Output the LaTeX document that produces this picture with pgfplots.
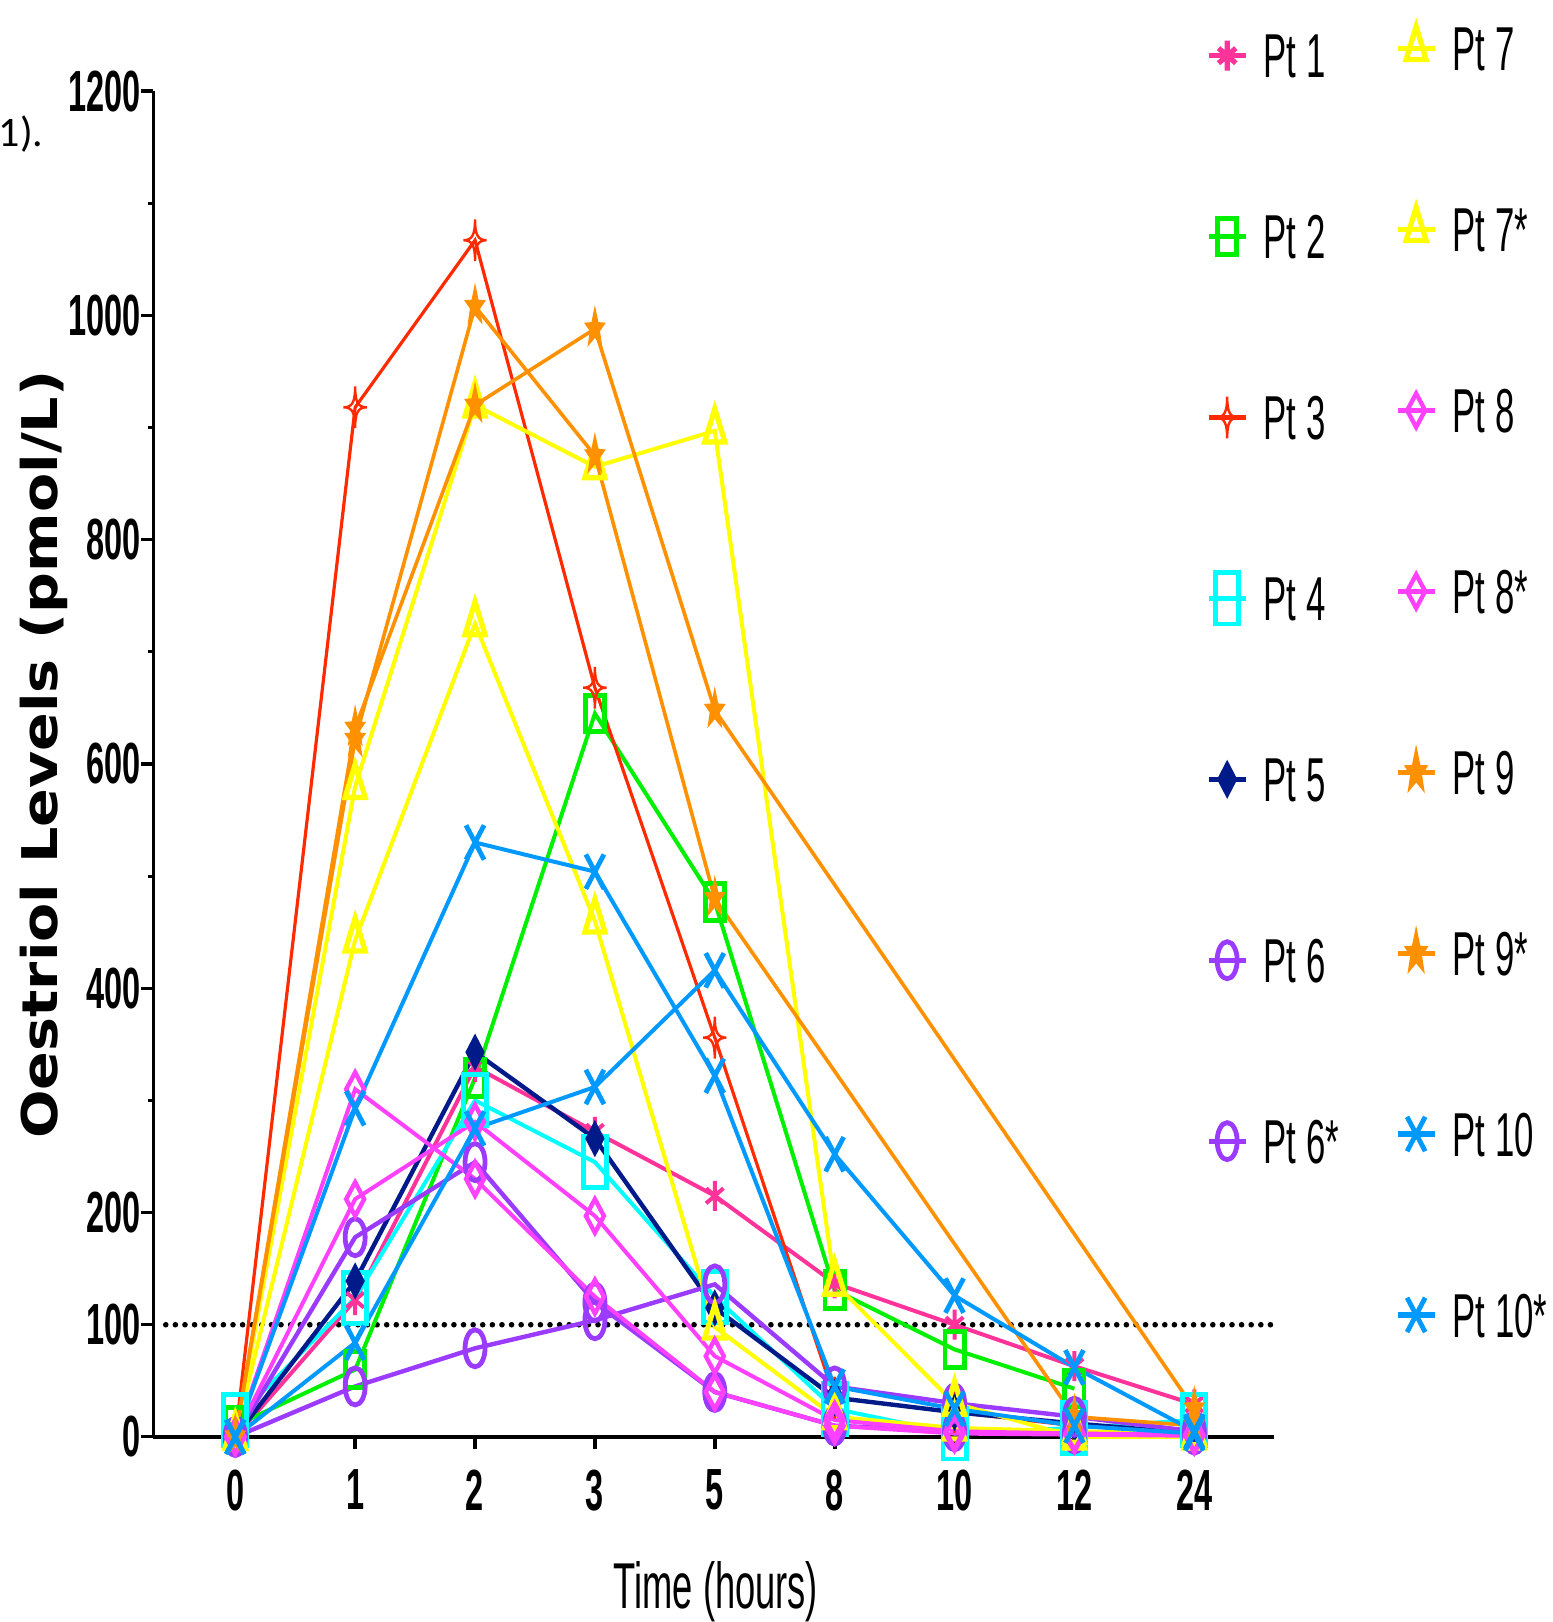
\documentclass[border=0pt]{standalone}
\usepackage{fontspec}
\usepackage{pgfplots}
\pgfplotsset{compat=1.18}
\usetikzlibrary{plotmarks}
\setmainfont{Liberation Sans}
\newfontfamily\narrowfont[FakeStretch=0.56]{Liberation Sans}
\newfontfamily\labelfont[FakeStretch=1.16]{DejaVu Sans}
\newfontfamily\carlitofont{Carlito}

\definecolor{c1}{HTML}{FF3399}
\definecolor{c2}{HTML}{00F000}
\definecolor{c3}{HTML}{FF2A00}
\definecolor{c4}{HTML}{00FFFF}
\definecolor{c5}{HTML}{001A8A}
\definecolor{c6}{HTML}{9A3BFF}
\definecolor{c7}{HTML}{FFFF00}
\definecolor{c8}{HTML}{FF40FF}
\definecolor{c9}{HTML}{FF9100}
\definecolor{c10}{HTML}{0099FF}

\pgfdeclareplotmark{star4}{%
  \pgfpathmoveto{\pgfqpoint{0pt}{\pgfplotmarksize}}%
  \pgfpathcurveto{\pgfqpoint{0pt}{0.25\pgfplotmarksize}}{\pgfqpoint{0.25\pgfplotmarksize}{0pt}}{\pgfqpoint{\pgfplotmarksize}{0pt}}%
  \pgfpathcurveto{\pgfqpoint{0.25\pgfplotmarksize}{0pt}}{\pgfqpoint{0pt}{-0.25\pgfplotmarksize}}{\pgfqpoint{0pt}{-\pgfplotmarksize}}%
  \pgfpathcurveto{\pgfqpoint{0pt}{-0.25\pgfplotmarksize}}{\pgfqpoint{-0.25\pgfplotmarksize}{0pt}}{\pgfqpoint{-\pgfplotmarksize}{0pt}}%
  \pgfpathcurveto{\pgfqpoint{-0.25\pgfplotmarksize}{0pt}}{\pgfqpoint{0pt}{0.25\pgfplotmarksize}}{\pgfqpoint{0pt}{\pgfplotmarksize}}%
  \pgfpathclose\pgfusepathqstroke}
\pgfdeclareplotmark{fstar}{%
  \pgfpathmoveto{\pgfpointpolar{90}{\pgfplotmarksize}}%
  \pgfpathlineto{\pgfpointpolar{126}{0.42\pgfplotmarksize}}%
  \pgfpathlineto{\pgfpointpolar{162}{\pgfplotmarksize}}%
  \pgfpathlineto{\pgfpointpolar{198}{0.42\pgfplotmarksize}}%
  \pgfpathlineto{\pgfpointpolar{234}{\pgfplotmarksize}}%
  \pgfpathlineto{\pgfpointpolar{270}{0.42\pgfplotmarksize}}%
  \pgfpathlineto{\pgfpointpolar{306}{\pgfplotmarksize}}%
  \pgfpathlineto{\pgfpointpolar{342}{0.42\pgfplotmarksize}}%
  \pgfpathlineto{\pgfpointpolar{18}{\pgfplotmarksize}}%
  \pgfpathlineto{\pgfpointpolar{54}{0.42\pgfplotmarksize}}%
  \pgfpathclose\pgfusepathqfillstroke}

\pgfplotsset{
  pt1/.style={color=c1, line width=1pt, mark=asterisk, mark size=2.5pt, mark options={solid, yscale=1.5}},
  pt2/.style={color=c2, line width=1pt, mark=square, mark size=2.4pt, mark options={solid, yscale=1.9, line width=1.2pt}},
  pt3/.style={color=c3, line width=0.8pt, mark=star4, mark size=2.9pt, mark options={solid, yscale=1.8, line width=0.6pt}},
  pt4/.style={color=c4, line width=1pt, mark=square, mark size=2.9pt, mark options={solid, yscale=2.2, line width=1.2pt}},
  pt5/.style={color=c5, line width=1.1pt, mark=diamond*, mark size=2.4pt, mark options={solid, yscale=1.45, fill=c5}},
  pt6/.style={color=c6, line width=1.1pt, mark=o, mark size=2.5pt, mark options={solid, yscale=1.85, line width=1.2pt}},
  pt7/.style={color=c7, line width=1pt, mark=triangle, mark size=2.9pt, mark options={solid, yscale=1.9, line width=1.3pt}},
  pt8/.style={color=c8, line width=1pt, mark=diamond, mark size=3pt, mark options={solid, yscale=1.4, line width=1.1pt}},
  pt9/.style={color=c9, line width=0.9pt, mark=fstar, mark size=2pt, mark options={solid, yscale=1.85}},
  pt10/.style={color=c10, line width=1pt, mark=x, mark size=3.2pt, mark options={solid, yscale=1.9, line width=1.2pt}},
  commonaxis/.style={
    scale only axis, width=280pt, height=336.25pt,
    xmin=-0.684, xmax=8.665, ymin=0, ymax=1200,
    clip=false,
  },
  legstyle/.style={
    legend cell align=left,
    legend image code/.code={\draw[mark repeat=2,mark phase=2,line width=1.3pt] plot coordinates {(0pt,0pt) (4.65pt,0pt) (9.3pt,0pt)};},
  },
}

\begin{document}
\begin{tikzpicture}
\begin{axis}[
  commonaxis, legstyle,
  axis lines=left,
  axis line style={-},
  x axis line style={line width=1.1pt},
  y axis line style={line width=0.8pt},
  xtick={0,1,2,3,4,5,6,7,8},
  xticklabels={0,1,2,3,5,8,10,12,24},
  ytick={0,100,200,400,600,800,1000,1200},
  minor ytick={300,500,700,900,1100},
  tick align=outside,
  major tick length=3pt, minor tick length=1.4pt,
  xtick style={line width=1pt, black},
  ytick style={line width=0.8pt, black},
  /pgf/number format/assume math mode=true,
  /pgf/number format/1000 sep={},
  tick label style={font=\narrowfont\bfseries\fontsize{14.5}{14.5}\selectfont, inner sep=0pt},
  xticklabel style={yshift=-5pt},
  xlabel={Time (hours)},
  xlabel style={font=\narrowfont\fontsize{16.2}{16.2}\selectfont, at={(axis description cs:0.502,0)}, anchor=base, yshift=-43pt},
  ylabel={Oestriol Levels (pmol/L)},
  ylabel style={font=\labelfont\bfseries\fontsize{12.3}{12.3}\selectfont, at={(axis description cs:-0.098,0.507)}, anchor=center},
  legend style={at={(0.9393,1.0935)}, anchor=north west, draw=none, fill=none, inner sep=0pt, outer sep=0pt, row sep=0pt, column sep=3.8pt, font=\narrowfont\fontsize{15.5}{15.5}\selectfont, nodes={inner sep=0pt, text height=28.15pt, text depth=17.05pt}},
]
\addplot[black, line width=1.4pt, dash pattern=on 0pt off 2.4pt, line cap=round, forget plot] coordinates {(-0.58,100) (8.665,100)};

\addplot[pt1, forget plot] coordinates {(0,0) (1,122) (2,330) (3,272) (4,215) (5,137) (6,100) (7,63) (8,29)};
\addplot[pt2, forget plot] coordinates {(0,10) (1,60) (2,320) (3,645) (4,477) (5,131) (6,78) (7,43)};
\addplot[pt3, forget plot] coordinates {(0,0) (1,918) (2,1067) (3,668) (4,356) (5,35) (6,22) (7,10) (8,3)};
\addplot[pt4, forget plot] coordinates {(0,15) (1,124) (2,300) (3,245) (4,125) (5,25) (6,3) (7,8) (8,15)};
\addplot[pt5, forget plot] coordinates {(0,0) (1,139) (2,343) (3,266) (4,115) (5,35) (6,22) (7,12) (8,3)};
\addplot[pt6, forget plot] coordinates {(0,0) (1,178) (2,245) (3,120) (4,40) (5,10) (6,5) (7,3) (8,2)};
\addplot[pt6, forget plot] coordinates {(0,0) (1,45) (2,79) (3,104) (4,136) (5,45) (6,30) (7,18) (8,5)};
\addplot[pt7, forget plot] coordinates {(0,0) (1,580) (2,920) (3,865) (4,897) (5,137) (6,30) (7,0) (8,0)};
\addplot[pt7, forget plot] coordinates {(0,0) (1,443) (2,725) (3,460) (4,98) (5,18) (6,8) (7,5) (8,3)};
\addplot[pt8, forget plot] coordinates {(0,0) (1,310) (2,230) (3,125) (4,40) (5,10) (6,3) (7,2) (8,1)};
\addplot[pt8, forget plot] coordinates {(0,0) (1,212) (2,281) (3,197) (4,72) (5,15) (6,5) (7,3) (8,2)};
\addplot[pt9, forget plot] coordinates {(0,0) (1,632) (2,920) (3,988) (4,648) (8,25)};
\addplot[pt9, forget plot] coordinates {(0,0) (1,622) (2,1008) (3,875) (4,480) (7,18) (8,10)};
\addplot[pt10, forget plot] coordinates {(0,0) (1,293) (2,530) (3,504) (4,322) (5,45) (6,25) (7,10) (8,3)};
\addplot[pt10, forget plot] coordinates {(0,0) (1,84) (2,275) (3,312) (4,416) (5,252) (6,126) (7,62) (8,5)};

\addlegendimage{pt1}\addlegendentry{Pt 1}
\addlegendimage{pt2}\addlegendentry{Pt 2}
\addlegendimage{pt3}\addlegendentry{Pt 3}
\addlegendimage{pt4}\addlegendentry{Pt 4}
\addlegendimage{pt5}\addlegendentry{Pt 5}
\addlegendimage{pt6}\addlegendentry{Pt 6}
\addlegendimage{pt6}\addlegendentry{Pt 6*}
\end{axis}

\begin{axis}[
  commonaxis, legstyle, hide axis,
  legend style={at={(1.1079,1.0988)}, anchor=north west, draw=none, fill=none, inner sep=0pt, outer sep=0pt, row sep=0pt, column sep=3.8pt, font=\narrowfont\fontsize{15.5}{15.5}\selectfont, nodes={inner sep=0pt, text height=28.15pt, text depth=17.05pt}},
]
\addlegendimage{pt7}\addlegendentry{Pt 7}
\addlegendimage{pt7}\addlegendentry{Pt 7*}
\addlegendimage{pt8}\addlegendentry{Pt 8}
\addlegendimage{pt8}\addlegendentry{Pt 8*}
\addlegendimage{pt9}\addlegendentry{Pt 9}
\addlegendimage{pt9}\addlegendentry{Pt 9*}
\addlegendimage{pt10}\addlegendentry{Pt 10}
\addlegendimage{pt10}\addlegendentry{Pt 10*}
\end{axis}

\node[font=\carlitofont\fontsize{10.5}{10.5}\selectfont, anchor=base west, inner sep=0pt] at (-38.8pt,322.5pt) {1).};

\pgfresetboundingbox
\path[use as bounding box] (-38.3pt,-46.25pt) rectangle (349.7pt,359pt);
\end{tikzpicture}
\end{document}
